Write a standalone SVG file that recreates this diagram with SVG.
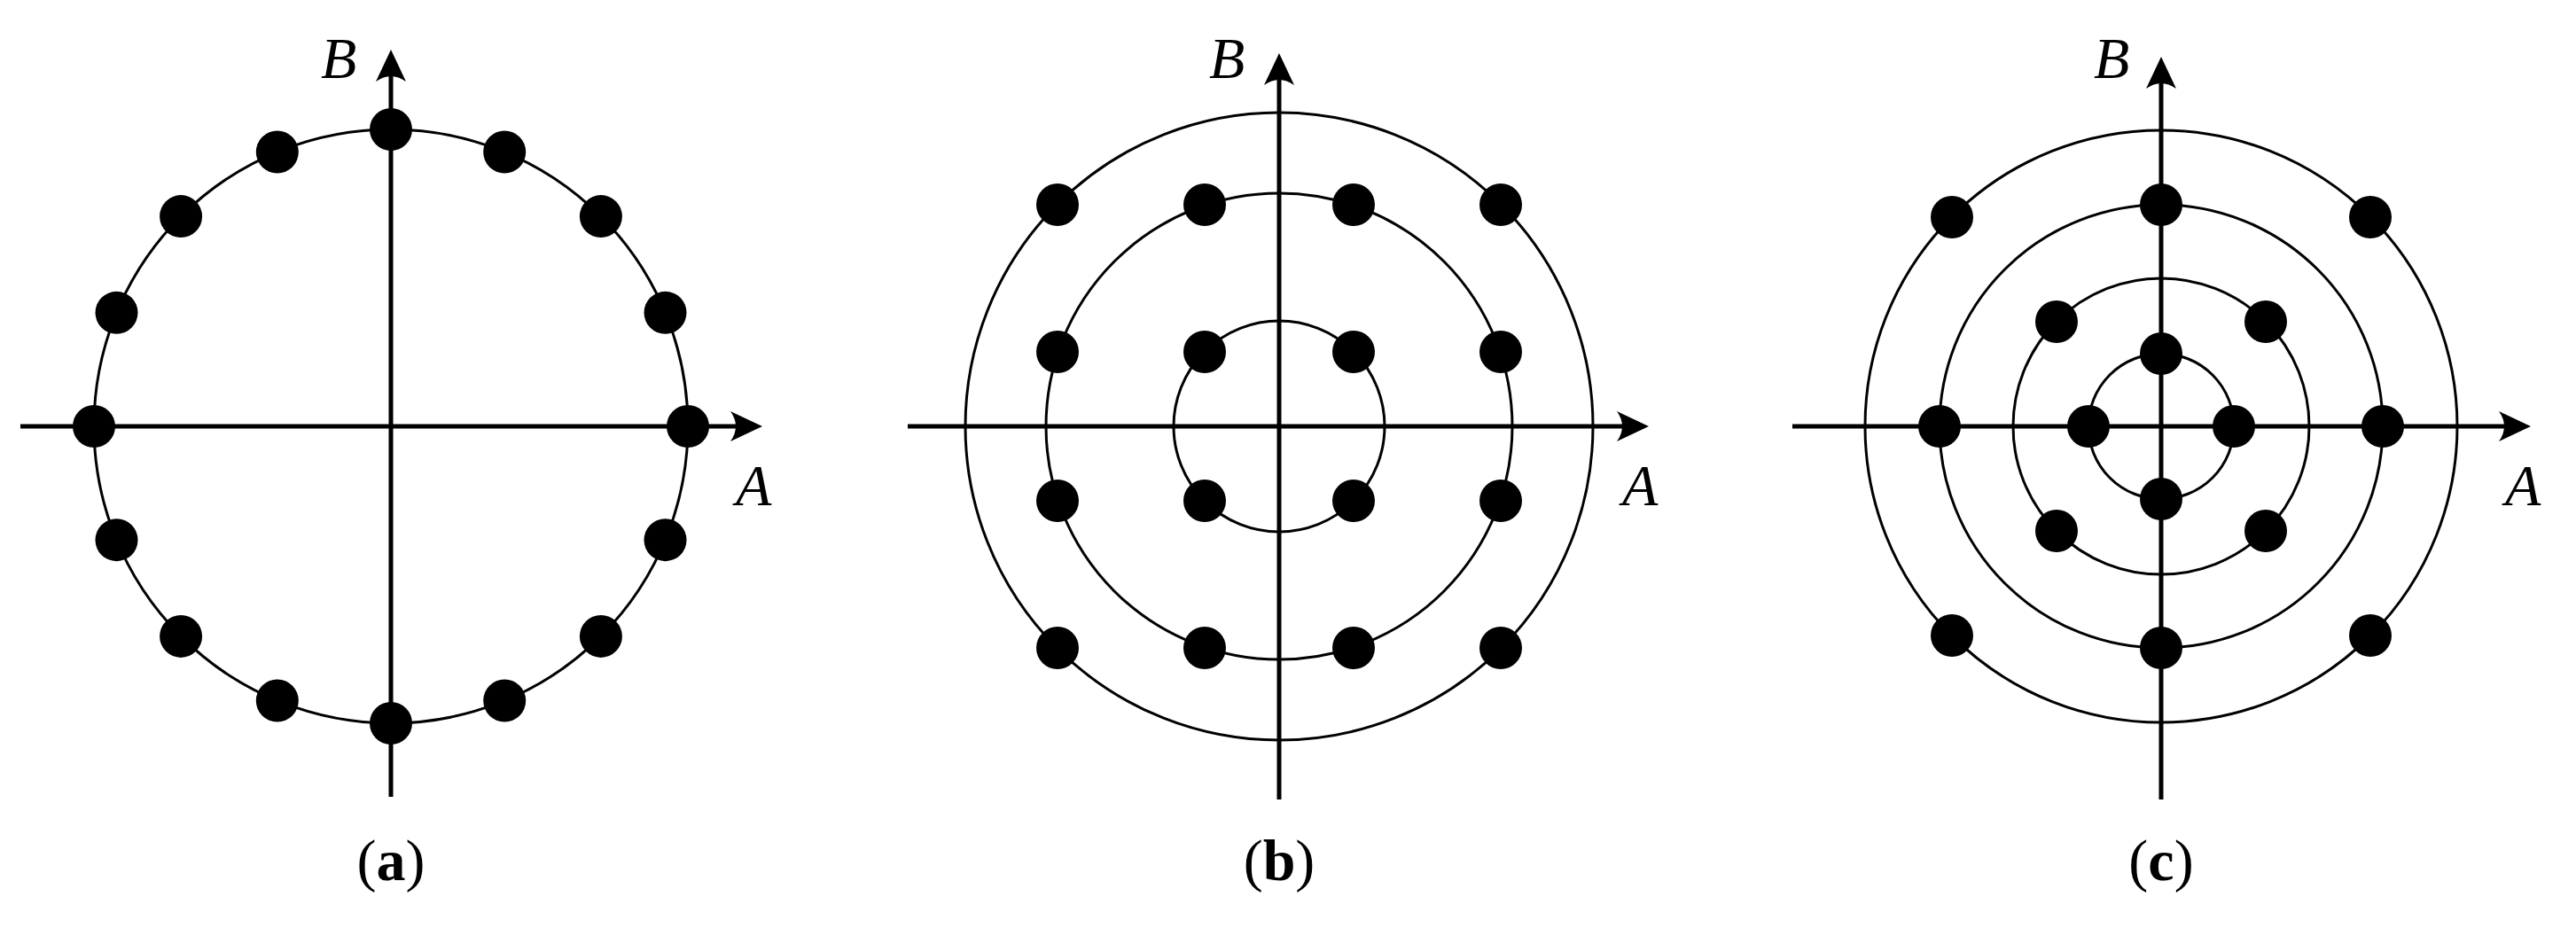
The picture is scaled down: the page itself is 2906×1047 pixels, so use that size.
<svg xmlns="http://www.w3.org/2000/svg" width="2906" height="1047" viewBox="0 0 2906 1047">
<style>
.ax{stroke:#000;stroke-width:5;fill:none}
.ring{stroke:#000;stroke-width:3;fill:none}
.dot{fill:#000}
.hd{fill:#000}
.lab{font-family:"Liberation Serif",serif;font-style:italic;font-size:66px;fill:#000}
.cap{font-family:"Liberation Serif",serif;font-size:66px;fill:#000;text-anchor:middle}
</style>
<defs>
<path id="ah" d="M0,0 L-36,-17 Q-24,0 -36,17 Z"/>
<circle id="d" r="24"/>
</defs>
<g id="panel-a">
<g id="connectors-a">
<line class="ax" x1="23" y1="481" x2="845" y2="481"/>
<line class="ax" x1="441" y1="899" x2="441" y2="70"/>
<use href="#ah" class="hd" transform="translate(860,481)"/>
<use href="#ah" class="hd" transform="translate(441,56) rotate(-90)"/>
</g>
<circle class="ring" cx="441" cy="481" r="335"/>
<g id="dots-a" class="dot" transform="translate(441,481)">
<use href="#d" x="335" y="0"/><use href="#d" x="309.5" y="128.2"/><use href="#d" x="236.9" y="236.9"/><use href="#d" x="128.2" y="309.5"/>
<use href="#d" x="0" y="335"/><use href="#d" x="-128.2" y="309.5"/><use href="#d" x="-236.9" y="236.9"/><use href="#d" x="-309.5" y="128.2"/>
<use href="#d" x="-335" y="0"/><use href="#d" x="-309.5" y="-128.2"/><use href="#d" x="-236.9" y="-236.9"/><use href="#d" x="-128.2" y="-309.5"/>
<use href="#d" x="0" y="-335"/><use href="#d" x="128.2" y="-309.5"/><use href="#d" x="236.9" y="-236.9"/><use href="#d" x="309.5" y="-128.2"/>
</g>
<text class="lab" x="362" y="88">B</text>
<text class="lab" x="830" y="570">A</text>
<text class="cap" x="441" y="993">(<tspan font-weight="bold">a</tspan>)</text>
</g>
<g id="panel-b">
<g id="connectors-b">
<line class="ax" x1="1024" y1="481" x2="1845" y2="481"/>
<line class="ax" x1="1443" y1="902" x2="1443" y2="74"/>
<use href="#ah" class="hd" transform="translate(1860,481)"/>
<use href="#ah" class="hd" transform="translate(1443,60) rotate(-90)"/>
</g>
<g class="ring">
<circle cx="1443" cy="481" r="354"/>
<circle cx="1443" cy="481" r="263"/>
<circle cx="1443" cy="481" r="119"/>
</g>
<g id="dots-b" class="dot" transform="translate(1443,481)">
<use href="#d" x="-250" y="-250"/><use href="#d" x="-84" y="-250"/><use href="#d" x="84" y="-250"/><use href="#d" x="250" y="-250"/>
<use href="#d" x="-250" y="-84"/><use href="#d" x="-84" y="-84"/><use href="#d" x="84" y="-84"/><use href="#d" x="250" y="-84"/>
<use href="#d" x="-250" y="84"/><use href="#d" x="-84" y="84"/><use href="#d" x="84" y="84"/><use href="#d" x="250" y="84"/>
<use href="#d" x="-250" y="250"/><use href="#d" x="-84" y="250"/><use href="#d" x="84" y="250"/><use href="#d" x="250" y="250"/>
</g>
<text class="lab" x="1364" y="88">B</text>
<text class="lab" x="1830" y="570">A</text>
<text class="cap" x="1443" y="993">(<tspan font-weight="bold">b</tspan>)</text>
</g>
<g id="panel-c">
<g id="connectors-c">
<line class="ax" x1="2022" y1="481" x2="2840" y2="481"/>
<line class="ax" x1="2438" y1="902" x2="2438" y2="78"/>
<use href="#ah" class="hd" transform="translate(2855,481)"/>
<use href="#ah" class="hd" transform="translate(2438,64) rotate(-90)"/>
</g>
<g class="ring">
<circle cx="2438" cy="481" r="334"/>
<circle cx="2438" cy="481" r="250"/>
<circle cx="2438" cy="481" r="167"/>
<circle cx="2438" cy="481" r="82"/>
</g>
<g id="dots-c" class="dot" transform="translate(2438,481)">
<use href="#d" x="82" y="0"/><use href="#d" x="-82" y="0"/><use href="#d" x="0" y="82"/><use href="#d" x="0" y="-82"/>
<use href="#d" x="118" y="118"/><use href="#d" x="-118" y="118"/><use href="#d" x="118" y="-118"/><use href="#d" x="-118" y="-118"/>
<use href="#d" x="250" y="0"/><use href="#d" x="-250" y="0"/><use href="#d" x="0" y="250"/><use href="#d" x="0" y="-250"/>
<use href="#d" x="236" y="236"/><use href="#d" x="-236" y="236"/><use href="#d" x="236" y="-236"/><use href="#d" x="-236" y="-236"/>
</g>
<text class="lab" x="2362" y="88">B</text>
<text class="lab" x="2826" y="570">A</text>
<text class="cap" x="2438" y="993">(<tspan font-weight="bold">c</tspan>)</text>
</g>
</svg>
